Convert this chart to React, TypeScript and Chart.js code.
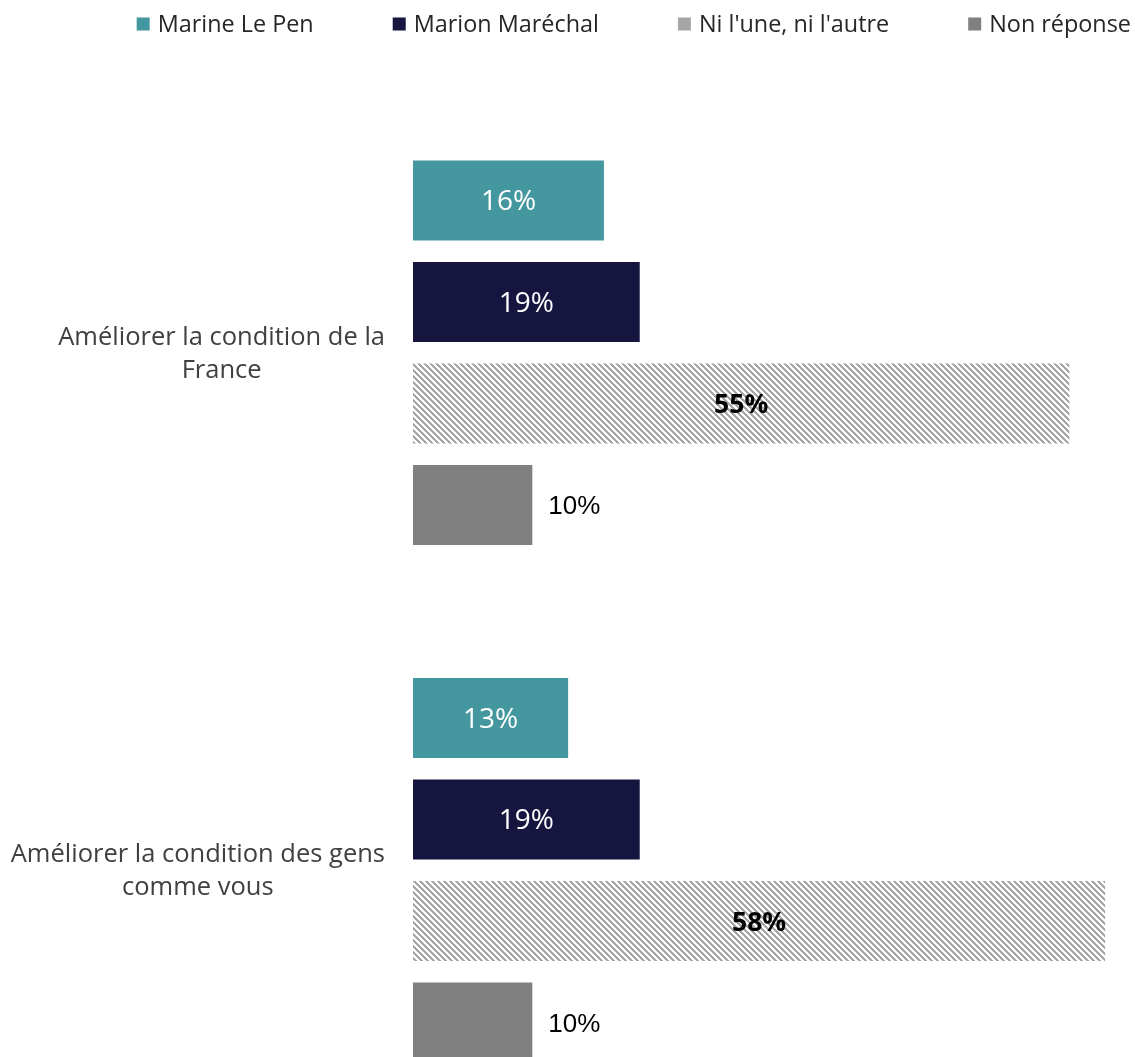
import React, { useEffect, useRef } from "react";
import { Chart, registerables } from "chart.js";

Chart.register(...registerables);

const categories: string[][] = [
  ["Améliorer la condition de la", "France"],
  ["Améliorer la condition des gens", "comme vous"],
];
const seriesNames = ["Marine Le Pen", "Marion Maréchal", "Ni l'une, ni l'autre", "Non réponse"];
const marineLePen = [16, 13];
const marionMarechal = [19, 19];
const niLuneNiLautre = [55, 58];
const nonReponse = [10, 10];

const COLORS = ["#45979F", "#151540", "#A6A6A6", "#808080"];

function makePattern(): CanvasPattern | string {
  const c = document.createElement("canvas");
  c.width = 6;
  c.height = 6;
  const ctx = c.getContext("2d");
  if (!ctx) return "#A6A6A6";
  ctx.fillStyle = "#FFFFFF";
  ctx.fillRect(0, 0, 6, 6);
  ctx.fillStyle = "#A6A6A6";
  for (let y = 0; y < 6; y++) {
    for (let x = 0; x < 6; x++) {
      if ((x - y + 6) % 6 < 3) ctx.fillRect(x, y, 1, 1);
    }
  }
  return ctx.createPattern(c, "repeat") || "#A6A6A6";
}

const legendPlugin = {
  id: "customLegend",
  afterDraw(chart: any) {
    const ctx = chart.ctx;
    ctx.save();
    ctx.font = "23.4px 'Open Sans'";
    ctx.textBaseline = "middle";
    ctx.textAlign = "left";
    const box = 13;
    const gapText = 8;
    const gapItem = 79;
    const y = 24;
    let right = 1131;
    const items = seriesNames.map((n, i) => ({ n, c: COLORS[i], w: ctx.measureText(n).width }));
    for (let i = items.length - 1; i >= 0; i--) {
      const it = items[i];
      const tx = right - it.w;
      const bx = tx - gapText - box;
      ctx.fillStyle = it.c;
      ctx.fillRect(bx, y - box / 2, box, box);
      ctx.fillStyle = "#262626";
      ctx.fillText(it.n, tx, y + 1);
      right = bx - gapItem;
    }
    ctx.restore();
  },
};

const categoryLabelPlugin = {
  id: "categoryLabels",
  afterDraw(chart: any) {
    const ctx = chart.ctx;
    const yScale = chart.scales.y;
    ctx.save();
    ctx.font = "25.5px 'Open Sans'";
    ctx.fillStyle = "#404040";
    ctx.textAlign = "center";
    ctx.textBaseline = "middle";
    const rightEdge = 385;
    const lh = 33;
    categories.forEach((lines, i) => {
      const cy = yScale.getPixelForValue(i) + 1;
      const maxW = Math.max(...lines.map((l) => ctx.measureText(l).width));
      const cx = rightEdge - maxW / 2;
      const startY = cy - ((lines.length - 1) * lh) / 2;
      lines.forEach((l, k) => ctx.fillText(l, cx, startY + k * lh));
    });
    ctx.restore();
  },
};

const valueLabelPlugin = {
  id: "valueLabels",
  afterDatasetsDraw(chart: any) {
    const ctx = chart.ctx;
    ctx.save();
    ctx.textBaseline = "middle";
    chart.data.datasets.forEach((ds: any, di: number) => {
      const meta = chart.getDatasetMeta(di);
      meta.data.forEach((bar: any, j: number) => {
        const v = ds.data[j];
        const text = v + "%";
        if (di === 0 || di === 1) {
          ctx.font = "28px 'Open Sans'";
          ctx.fillStyle = "#FFFFFF";
          ctx.textAlign = "center";
          ctx.fillText(text, (bar.x + bar.base) / 2, bar.y + 2);
        } else if (di === 2) {
          ctx.font = "bold 26.5px 'Open Sans'";
          ctx.fillStyle = "#000000";
          ctx.textAlign = "center";
          ctx.fillText(text, (bar.x + bar.base) / 2, bar.y + 2);
        } else {
          ctx.font = "26px 'Liberation Sans'";
          ctx.fillStyle = "#000000";
          ctx.textAlign = "left";
          ctx.fillText(text, bar.x + 16, bar.y + 2);
        }
      });
    });
    ctx.restore();
  },
};

export default function App() {
  const ref = useRef<HTMLCanvasElement>(null);
  useEffect(() => {
    if (!ref.current) return;
    const pattern = makePattern();
    const chart = new Chart(ref.current, {
      type: "bar",
      data: {
        labels: categories.map((c) => c.join(" ")),
        datasets: [
          { label: seriesNames[0], data: marineLePen, backgroundColor: COLORS[0] },
          { label: seriesNames[1], data: marionMarechal, backgroundColor: COLORS[1] },
          { label: seriesNames[2], data: niLuneNiLautre, backgroundColor: pattern as any },
          { label: seriesNames[3], data: nonReponse, backgroundColor: COLORS[3] },
        ],
      },
      options: {
        indexAxis: "y",
        responsive: false,
        animation: false,
        categoryPercentage: 0.785,
        barPercentage: 0.788,
        layout: { padding: { left: 413, right: 6, top: 94, bottom: 1 } },
        plugins: {
          legend: { display: false },
          tooltip: { enabled: false },
        },
        scales: {
          x: { min: 0, max: 60, display: false },
          y: { display: false },
        },
      } as any,
      plugins: [legendPlugin, categoryLabelPlugin, valueLabelPlugin],
    });
    return () => chart.destroy();
  }, []);
  return (
    <div
      style={{
        position: "absolute",
        left: 0,
        top: 0,
        width: 1135,
        height: 1057,
        overflow: "hidden",
        background: "#FFFFFF",
      }}
    >
      <canvas ref={ref} width={1135} height={1130} style={{ display: "block" }} />
    </div>
  );
}
